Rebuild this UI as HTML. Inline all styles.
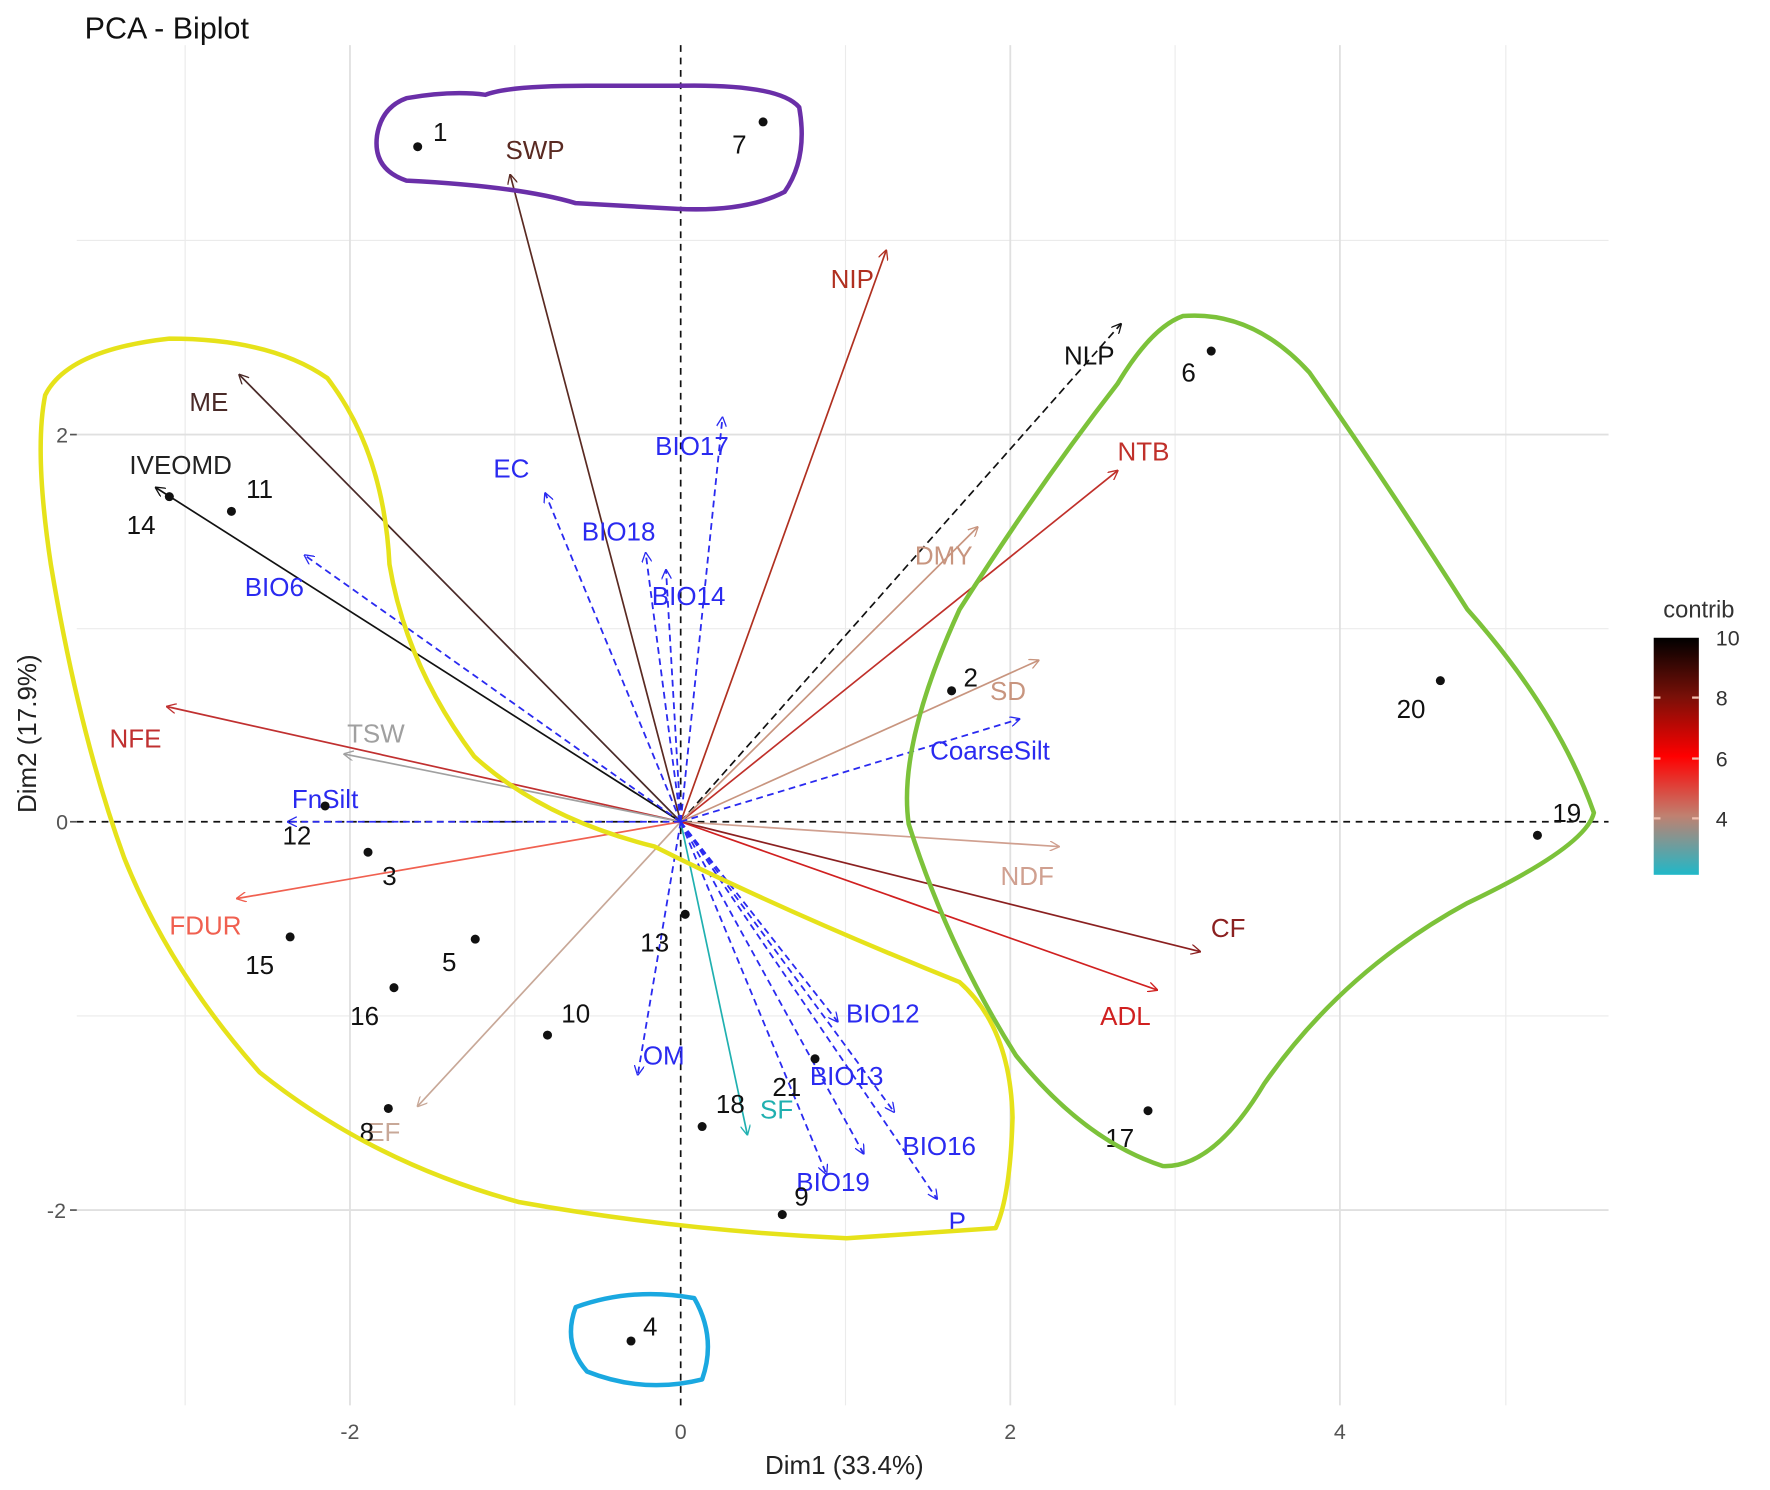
<!DOCTYPE html>
<html><head><meta charset="utf-8"><style>html,body{margin:0;padding:0;background:#fff}svg{display:block}text{font-family:"Liberation Sans",sans-serif}</style></head>
<body>
<svg width="1770" height="1490" viewBox="0 0 1568 1320" xmlns="http://www.w3.org/2000/svg">
<defs>
<marker id="ah" viewBox="0 0 10 10" refX="9" refY="5" markerWidth="9" markerHeight="9" orient="auto" markerUnits="userSpaceOnUse"><path d="M0,0 L10,5 L0,10" fill="none" stroke="context-stroke" stroke-width="1.3"/></marker>
<linearGradient id="cb" x1="0" y1="0" x2="0" y2="1">
<stop offset="0" stop-color="#000"/><stop offset="0.25" stop-color="#7a1008"/><stop offset="0.5" stop-color="#ff0000"/><stop offset="0.75" stop-color="#c08070"/><stop offset="1" stop-color="#20b8c8"/></linearGradient>
</defs>
<rect width="1568" height="1320" fill="#fff"/>
<text x="75" y="34" font-size="27" fill="#111">PCA - Biplot</text>
<g stroke="#ebebeb" stroke-width="1">
<line x1="164" y1="40" x2="164" y2="1245"/><line x1="456" y1="40" x2="456" y2="1245"/><line x1="749" y1="40" x2="749" y2="1245"/><line x1="1041" y1="40" x2="1041" y2="1245"/><line x1="1334" y1="40" x2="1334" y2="1245"/>
<line x1="68" y1="213" x2="1425" y2="213"/><line x1="68" y1="557" x2="1425" y2="557"/><line x1="68" y1="900" x2="1425" y2="900"/>
</g>
<g stroke="#e0e0e0" stroke-width="1.6">
<line x1="310" y1="40" x2="310" y2="1245"/><line x1="895" y1="40" x2="895" y2="1245"/><line x1="1187" y1="40" x2="1187" y2="1245"/>
<line x1="68" y1="385" x2="1425" y2="385"/><line x1="68" y1="1072" x2="1425" y2="1072"/>
</g>
<line x1="603" y1="40" x2="603" y2="1245" stroke="#111" stroke-dasharray="6,5" stroke-width="1.5"/>
<line x1="68" y1="728" x2="1425" y2="728" stroke="#111" stroke-dasharray="6,5" stroke-width="1.5"/>
<g font-size="19" fill="#555" text-anchor="middle">
<text x="310" y="1275">-2</text><text x="603" y="1275">0</text><text x="895" y="1275">2</text><text x="1187" y="1275">4</text>
<text x="55" y="392">2</text><text x="55" y="735">0</text><text x="50" y="1079">-2</text>
</g>
<g stroke="#555" stroke-width="1.5"><line x1="62" y1="385" x2="68" y2="385"/><line x1="62" y1="728" x2="68" y2="728"/><line x1="62" y1="1072" x2="68" y2="1072"/></g>
<text x="748" y="1306" font-size="23" text-anchor="middle" fill="#222">Dim1 (33.4%)</text>
<text transform="translate(32,650) rotate(-90)" font-size="23" text-anchor="middle" fill="#222">Dim2 (17.9%)</text>
<g fill="none" stroke-width="1.5" marker-end="url(#ah)">
<line x1="603" y1="728" x2="452" y2="155" stroke="#5a2a22"/>
<line x1="603" y1="728" x2="785" y2="222" stroke="#b03020"/>
<line x1="603" y1="728" x2="993" y2="287" stroke="#111" stroke-dasharray="7,4"/>
<line x1="603" y1="728" x2="990" y2="417" stroke="#c0302a"/>
<line x1="603" y1="728" x2="866" y2="467" stroke="#c8957f"/>
<line x1="603" y1="728" x2="920" y2="585" stroke="#c8957f"/>
<line x1="603" y1="728" x2="938" y2="750" stroke="#d0a090"/>
<line x1="603" y1="728" x2="1063" y2="843" stroke="#8b2020"/>
<line x1="603" y1="728" x2="1025" y2="877" stroke="#d02020"/>
<line x1="603" y1="728" x2="662" y2="1005" stroke="#20b0b0"/>
<line x1="603" y1="728" x2="370" y2="980" stroke="#c8a898"/>
<line x1="603" y1="728" x2="210" y2="796" stroke="#f06050"/>
<line x1="603" y1="728" x2="148" y2="626" stroke="#c03030"/>
<line x1="603" y1="728" x2="305" y2="668" stroke="#a0a0a0"/>
<line x1="603" y1="728" x2="138" y2="432" stroke="#111"/>
<line x1="603" y1="728" x2="212" y2="332" stroke="#4a2a28"/>
</g>
<g fill="none" stroke="#2a2af0" stroke-width="1.6" stroke-dasharray="6,4" marker-end="url(#ah)">
<line x1="603" y1="728" x2="903" y2="637"/>
<line x1="603" y1="728" x2="830" y2="1062"/>
<line x1="603" y1="728" x2="765" y2="1022"/>
<line x1="603" y1="728" x2="792" y2="985"/>
<line x1="603" y1="728" x2="742" y2="905"/>
<line x1="603" y1="728" x2="732" y2="1040"/>
<line x1="603" y1="728" x2="565" y2="952"/>
<line x1="603" y1="728" x2="255" y2="728"/>
<line x1="603" y1="728" x2="270" y2="492"/>
<line x1="603" y1="728" x2="483" y2="437"/>
<line x1="603" y1="728" x2="640" y2="370"/>
<line x1="603" y1="728" x2="572" y2="490"/>
<line x1="603" y1="728" x2="590" y2="505"/>
</g>
<g font-size="23" text-anchor="middle">
<text x="474" y="141" fill="#5a2a22">SWP</text>
<text x="755" y="255" fill="#b03020">NIP</text>
<text x="965" y="323" fill="#111">NLP</text>
<text x="1013" y="408" fill="#c0302a">NTB</text>
<text x="836" y="500" fill="#c8957f">DMY</text>
<text x="893" y="620" fill="#c8957f">SD</text>
<text x="877" y="673" fill="#2a2af0">CoarseSilt</text>
<text x="910" y="784" fill="#d0a090">NDF</text>
<text x="1088" y="830" fill="#8b2020">CF</text>
<text x="997" y="908" fill="#d02020">ADL</text>
<text x="688" y="991" fill="#20b0b0">SF</text>
<text x="848" y="1090" fill="#2a2af0">P</text>
<text x="832" y="1023" fill="#2a2af0">BIO16</text>
<text x="750" y="961" fill="#2a2af0">BIO13</text>
<text x="782" y="906" fill="#2a2af0">BIO12</text>
<text x="738" y="1055" fill="#2a2af0">BIO19</text>
<text x="588" y="943" fill="#2a2af0">OM</text>
<text x="340" y="1011" fill="#c8a898">EF</text>
<text x="182" y="828" fill="#f06050">FDUR</text>
<text x="120" y="662" fill="#c03030">NFE</text>
<text x="333" y="658" fill="#a0a0a0">TSW</text>
<text x="288" y="716" fill="#2a2af0">FnSilt</text>
<text x="243" y="528" fill="#2a2af0">BIO6</text>
<text x="160" y="420" fill="#222">IVEOMD</text>
<text x="185" y="364" fill="#4a2a28">ME</text>
<text x="453" y="423" fill="#2a2af0">EC</text>
<text x="613" y="403" fill="#2a2af0">BIO17</text>
<text x="548" y="479" fill="#2a2af0">BIO18</text>
<text x="610" y="536" fill="#2a2af0">BIO14</text>
</g>
<g fill="#111">
<circle cx="370" cy="130" r="4"/><circle cx="676" cy="108" r="4"/><circle cx="1073" cy="311" r="4"/><circle cx="1276" cy="603" r="4"/><circle cx="1362" cy="740" r="4"/><circle cx="843" cy="612" r="4"/><circle cx="1017" cy="984" r="4"/><circle cx="205" cy="453" r="4"/><circle cx="150" cy="440" r="4"/><circle cx="288" cy="714" r="4"/><circle cx="326" cy="755" r="4"/><circle cx="257" cy="830" r="4"/><circle cx="421" cy="832" r="4"/><circle cx="349" cy="875" r="4"/><circle cx="485" cy="917" r="4"/><circle cx="344" cy="982" r="4"/><circle cx="607" cy="810" r="4"/><circle cx="622" cy="998" r="4"/><circle cx="722" cy="938" r="4"/><circle cx="693" cy="1076" r="4"/><circle cx="559" cy="1188" r="4"/>
</g>
<g font-size="23" fill="#111" text-anchor="middle">
<text x="390" y="125">1</text><text x="655" y="136">7</text><text x="1053" y="338">6</text><text x="1250" y="636">20</text><text x="1388" y="728">19</text><text x="860" y="608">2</text><text x="992" y="1016">17</text><text x="230" y="441">11</text><text x="125" y="473">14</text><text x="263" y="748">12</text><text x="345" y="784">3</text><text x="230" y="863">15</text><text x="398" y="860">5</text><text x="323" y="908">16</text><text x="510" y="906">10</text><text x="325" y="1011">8</text><text x="580" y="843">13</text><text x="647" y="986">18</text><text x="697" y="971">21</text><text x="710" y="1068">9</text><text x="576" y="1183">4</text>
</g>
<g fill="none" stroke-width="4" stroke-linejoin="round" stroke-linecap="round">
<path d="M360,87 Q400,80 430,84 Q450,76 520,76 L600,76 Q690,74 708,95 Q716,140 695,170 Q660,188 600,185 L510,180 Q460,165 360,160 Q330,150 334,120 Q338,95 360,87Z" stroke="#6a2fa8"/>
<path d="M40,350 Q60,310 150,300 Q240,300 290,335 Q340,400 345,500 Q360,590 420,670 Q480,725 580,750 Q700,810 850,870 Q895,910 897,990 Q895,1060 882,1088 L750,1097 Q600,1090 460,1065 Q330,1030 230,950 Q150,860 110,760 Q70,650 45,500 Q30,400 40,350Z" stroke="#e6e21a"/>
<path d="M1048,280 Q1110,275 1160,330 Q1230,430 1300,540 Q1380,630 1412,720 Q1405,750 1300,800 Q1190,860 1120,960 Q1075,1035 1030,1033 Q960,1010 900,935 Q840,840 805,730 Q795,660 850,540 Q920,430 990,340 Q1020,290 1048,280Z" stroke="#7cc23a"/>
<path d="M510,1158 Q560,1140 615,1150 Q635,1185 622,1222 Q570,1235 520,1215 Q498,1190 510,1158Z" stroke="#1aa8e0"/>
</g>
<text x="1505" y="547" font-size="21" text-anchor="middle" fill="#333">contrib</text>
<rect x="1465" y="565" width="40" height="210" fill="url(#cb)"/>
<g stroke="#f0c0b0" stroke-width="2"><line x1="1465" y1="618" x2="1471" y2="618"/><line x1="1499" y1="618" x2="1505" y2="618"/><line x1="1465" y1="672" x2="1471" y2="672"/><line x1="1499" y1="672" x2="1505" y2="672"/><line x1="1465" y1="725" x2="1471" y2="725"/><line x1="1499" y1="725" x2="1505" y2="725"/></g>
<g font-size="19" fill="#333"><text x="1520" y="572">10</text><text x="1520" y="625">8</text><text x="1520" y="679">6</text><text x="1520" y="732">4</text></g>
</svg>
</body></html>
